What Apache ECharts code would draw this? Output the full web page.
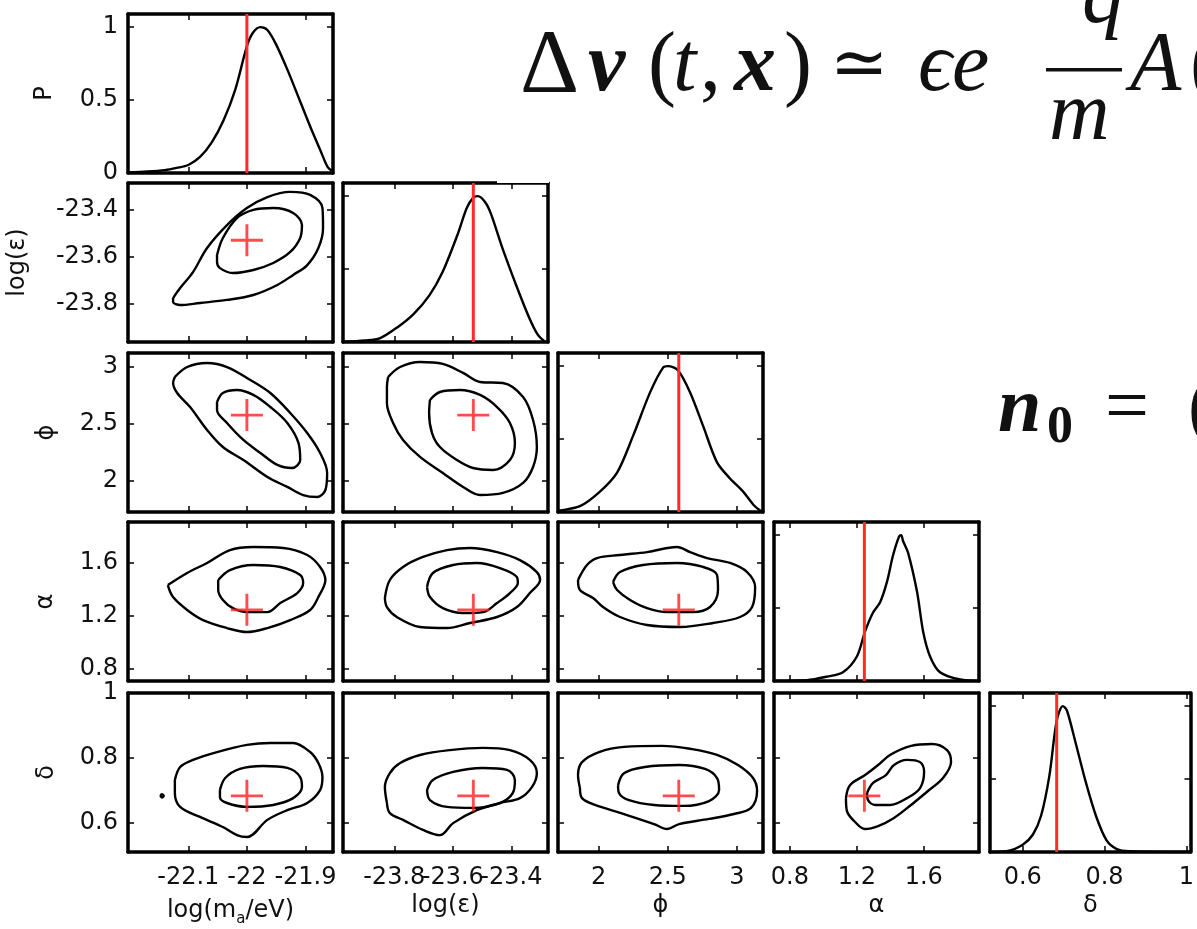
<!DOCTYPE html>
<html>
<head>
<meta charset="utf-8">
<script src="https://cdn.jsdelivr.net/npm/echarts@6/dist/echarts.min.js"></script>
<style>
  html, body { margin: 0; padding: 0; background: #fff; }
  #chart { width: 1197px; height: 929px; }
</style>
</head>
<body>
<div id="chart"></div>
<script>
// ---- parameters of the corner plot ----
const paramLabels = ['log(m{sub|a}/eV)', 'log(ε)', 'ϕ', 'α', 'δ'];
const rowLabels = ['P', 'log(ε)', 'ϕ', 'α', 'δ'];
const paramTicks = [
  [-22.1, -22, -21.9],
  [-23.8, -23.6, -23.4],
  [2, 2.5, 3],
  [0.8, 1.2, 1.6],
  [0.6, 0.8, 1]
];
const probTicks = [0, 0.5, 1];
const probRange = [0, 1.09];
const xRanges = [[-22.203, -21.853], [-23.975, -23.275], [1.705, 3.19], [0.705, 1.93], [0.52, 1.01]];
const yRanges = [[0, 1.09], [-23.965, -23.285], [1.73, 3.125], [0.71, 1.905], [0.51, 1.0]];
// injected (true) parameter values
const trueValues = [-22.0, -23.53, 2.58, 1.245, 0.683];

// ---- marginal posteriors (normalised to peak 1) ----
const margLogM = [[-22.203,0.004],[-22.17,0.01],[-22.14,0.02],[-22.12,0.035],[-22.1,0.055],[-22.08,0.11],[-22.06,0.21],[-22.04,0.36],[-22.02,0.57],[-22.0,0.87],[-21.99,0.96],[-21.977,1.0],[-21.965,0.98],[-21.95,0.88],[-21.93,0.7],[-21.91,0.5],[-21.89,0.3],[-21.875,0.16],[-21.862,0.04],[-21.853,0.01]];
const margLogEps = [[-23.975,0.0],[-23.9,0.01],[-23.85,0.025],[-23.79,0.1],[-23.735,0.19],[-23.68,0.32],[-23.635,0.48],[-23.585,0.73],[-23.552,0.92],[-23.53,0.99],[-23.515,1.0],[-23.49,0.96],[-23.47,0.88],[-23.43,0.64],[-23.38,0.37],[-23.34,0.17],[-23.31,0.05],[-23.285,0.0]];
const margPhi = [[1.705,0.005],[1.72,0.01],[1.864,0.04],[2.009,0.14],[2.133,0.27],[2.248,0.52],[2.372,0.82],[2.466,0.99],[2.502,1.0],[2.575,0.97],[2.662,0.82],[2.756,0.59],[2.857,0.34],[2.951,0.23],[3.046,0.14],[3.12,0.05],[3.169,0.01],[3.19,0.0]];
const margAlpha = [[0.705,0.0],[0.9,0.005],[1.022,0.03],[1.117,0.06],[1.201,0.17],[1.249,0.34],[1.297,0.47],[1.339,0.54],[1.38,0.68],[1.416,0.86],[1.452,0.99],[1.465,1.0],[1.476,0.96],[1.506,0.88],[1.56,0.61],[1.596,0.34],[1.637,0.17],[1.697,0.06],[1.817,0.01],[1.93,0.0]];
const margDelta = [[0.52,0.0],[0.56,0.005],[0.6,0.05],[0.625,0.12],[0.645,0.25],[0.665,0.52],[0.683,0.9],[0.698,1.0],[0.708,0.97],[0.73,0.74],[0.755,0.47],[0.78,0.24],[0.805,0.08],[0.83,0.02],[0.86,0.005],[1.01,0.0]];

// ---- 2D credible contours: [x, y] along each closed curve ----
const mEps95 = [[-22.126,-23.777],[-22.114,-23.734],[-22.092,-23.666],[-22.068,-23.563],[-22.034,-23.465],[-22.0,-23.392],[-21.965,-23.345],[-21.926,-23.323],[-21.892,-23.336],[-21.871,-23.392],[-21.87,-23.477],[-21.878,-23.563],[-21.897,-23.636],[-21.921,-23.678],[-21.948,-23.721],[-21.989,-23.764],[-22.034,-23.785],[-22.08,-23.798],[-22.114,-23.807],[-22.126,-23.794]];
const mEps68 = [[-22.051,-23.593],[-22.041,-23.52],[-22.017,-23.435],[-21.989,-23.4],[-21.955,-23.392],[-21.921,-23.413],[-21.906,-23.465],[-21.909,-23.52],[-21.926,-23.58],[-21.955,-23.627],[-21.989,-23.657],[-22.024,-23.67],[-22.046,-23.649],[-22.051,-23.623]];

const mPhi95 = [[-22.123,2.914],[-22.102,3.002],[-22.068,3.037],[-22.034,3.002],[-21.994,2.888],[-21.96,2.774],[-21.926,2.599],[-21.897,2.423],[-21.875,2.248],[-21.863,2.072],[-21.866,1.923],[-21.88,1.862],[-21.904,1.879],[-21.931,1.95],[-21.965,2.037],[-22.006,2.186],[-22.041,2.3],[-22.068,2.45],[-22.097,2.651],[-22.119,2.774],[-22.126,2.862]];
const mPhi68 = [[-22.051,2.695],[-22.041,2.774],[-22.017,2.8],[-21.989,2.757],[-21.96,2.651],[-21.931,2.511],[-21.912,2.336],[-21.909,2.186],[-21.923,2.116],[-21.948,2.143],[-21.977,2.248],[-22.006,2.362],[-22.034,2.511],[-22.051,2.625]];

const epsPhi95 = [[-23.821,2.914],[-23.78,3.002],[-23.712,3.046],[-23.634,3.029],[-23.565,2.95],[-23.507,2.871],[-23.429,2.862],[-23.36,2.739],[-23.326,2.537],[-23.313,2.3],[-23.326,2.125],[-23.36,1.985],[-23.429,1.897],[-23.507,1.879],[-23.565,1.95],[-23.634,2.072],[-23.712,2.213],[-23.77,2.362],[-23.804,2.511],[-23.825,2.686],[-23.825,2.827]];
const epsPhi68 = [[-23.678,2.713],[-23.644,2.783],[-23.576,2.8],[-23.507,2.757],[-23.449,2.651],[-23.405,2.511],[-23.388,2.336],[-23.405,2.186],[-23.463,2.099],[-23.531,2.116],[-23.586,2.186],[-23.644,2.3],[-23.671,2.423],[-23.681,2.599]];

const mAlpha95 = [[-22.135,1.431],[-22.102,1.522],[-22.068,1.597],[-22.029,1.694],[-21.989,1.717],[-21.938,1.71],[-21.897,1.657],[-21.875,1.567],[-21.866,1.469],[-21.878,1.341],[-21.892,1.244],[-21.926,1.168],[-21.965,1.108],[-22.0,1.078],[-22.034,1.108],[-22.075,1.168],[-22.102,1.244],[-22.126,1.341]];
const mAlpha68 = [[-22.049,1.469],[-22.029,1.544],[-21.989,1.582],[-21.943,1.567],[-21.909,1.507],[-21.904,1.446],[-21.914,1.371],[-21.943,1.296],[-21.965,1.228],[-22.0,1.228],[-22.024,1.258],[-22.041,1.319],[-22.049,1.394]];

const epsAlpha95 = [[-23.832,1.334],[-23.815,1.469],[-23.77,1.567],[-23.702,1.642],[-23.62,1.694],[-23.541,1.71],[-23.449,1.679],[-23.371,1.619],[-23.313,1.529],[-23.302,1.469],[-23.337,1.371],[-23.381,1.266],[-23.449,1.191],[-23.541,1.146],[-23.62,1.108],[-23.712,1.116],[-23.791,1.191],[-23.825,1.266]];
const epsAlpha68 = [[-23.688,1.416],[-23.668,1.522],[-23.599,1.582],[-23.518,1.597],[-23.439,1.559],[-23.381,1.491],[-23.378,1.446],[-23.405,1.371],[-23.449,1.296],[-23.497,1.228],[-23.565,1.221],[-23.634,1.258],[-23.678,1.341]];

const phiAlpha95 = [[1.85,1.469],[1.915,1.582],[1.988,1.634],[2.154,1.657],[2.35,1.679],[2.567,1.717],[2.662,1.679],[2.785,1.634],[2.951,1.597],[3.075,1.529],[3.133,1.416],[3.111,1.266],[3.024,1.191],[2.828,1.146],[2.589,1.116],[2.35,1.131],[2.154,1.191],[2.031,1.266],[1.959,1.334],[1.864,1.394]];
const phiAlpha68 = [[2.104,1.454],[2.154,1.529],[2.321,1.582],[2.567,1.597],[2.756,1.567],[2.857,1.507],[2.864,1.394],[2.806,1.266],[2.683,1.228],[2.495,1.228],[2.35,1.258],[2.227,1.319],[2.133,1.394]];

const mDelta95 = [[-22.123,0.732],[-22.114,0.772],[-22.092,0.794],[-22.051,0.818],[-22.0,0.84],[-21.96,0.846],[-21.921,0.846],[-21.892,0.818],[-21.878,0.784],[-21.871,0.741],[-21.875,0.701],[-21.897,0.661],[-21.931,0.639],[-21.965,0.609],[-22.0,0.556],[-22.017,0.562],[-22.041,0.587],[-22.08,0.618],[-22.114,0.649],[-22.123,0.692]];
const mDelta68 = [[-22.046,0.701],[-22.037,0.738],[-22.012,0.766],[-21.972,0.775],[-21.931,0.769],[-21.909,0.741],[-21.906,0.71],[-21.921,0.676],[-21.955,0.655],[-22.0,0.649],[-22.034,0.661],[-22.046,0.679]];
const mDeltaIsland = [[-22.148,0.683],[-22.145,0.688],[-22.142,0.683],[-22.145,0.678]];

const epsDelta95 = [[-23.825,0.661],[-23.832,0.71],[-23.815,0.753],[-23.78,0.784],[-23.712,0.809],[-23.61,0.824],[-23.497,0.831],[-23.405,0.824],[-23.337,0.794],[-23.313,0.753],[-23.33,0.71],[-23.371,0.676],[-23.439,0.661],[-23.518,0.639],[-23.599,0.599],[-23.644,0.562],[-23.702,0.578],[-23.77,0.609],[-23.815,0.63]];
const epsDelta68 = [[-23.688,0.701],[-23.668,0.732],[-23.599,0.757],[-23.497,0.769],[-23.415,0.763],[-23.388,0.732],[-23.395,0.692],[-23.439,0.661],[-23.531,0.646],[-23.62,0.649],[-23.678,0.67]];

const phiDelta95 = [[1.864,0.707],[1.85,0.747],[1.879,0.787],[2.002,0.818],[2.183,0.834],[2.459,0.837],[2.676,0.827],[2.857,0.809],[3.009,0.778],[3.118,0.738],[3.147,0.698],[3.104,0.646],[2.98,0.627],[2.799,0.612],[2.582,0.596],[2.495,0.581],[2.401,0.596],[2.183,0.627],[1.973,0.655],[1.879,0.676]];
const phiDelta68 = [[2.14,0.716],[2.183,0.753],[2.335,0.772],[2.582,0.778],[2.77,0.766],[2.857,0.738],[2.872,0.701],[2.799,0.667],[2.611,0.652],[2.401,0.655],[2.219,0.67],[2.147,0.692]];

const alphaDelta95 = [[1.135,0.676],[1.159,0.716],[1.249,0.747],[1.327,0.778],[1.398,0.809],[1.524,0.837],[1.649,0.843],[1.739,0.824],[1.763,0.787],[1.715,0.738],[1.625,0.698],[1.524,0.655],[1.422,0.615],[1.327,0.59],[1.249,0.581],[1.183,0.606],[1.141,0.636]];
const alphaDelta68 = [[1.261,0.692],[1.297,0.723],[1.374,0.747],[1.422,0.778],[1.5,0.794],[1.578,0.787],[1.602,0.757],[1.578,0.707],[1.5,0.676],[1.398,0.655],[1.309,0.655],[1.267,0.67]];

// lookup tables built from the arrays above
const marginals = [margLogM, margLogEps, margPhi, margAlpha, margDelta];
const contourSets = {
  '1-0': [mEps95, mEps68],
  '2-0': [mPhi95, mPhi68],
  '2-1': [epsPhi95, epsPhi68],
  '3-0': [mAlpha95, mAlpha68],
  '3-1': [epsAlpha95, epsAlpha68],
  '3-2': [phiAlpha95, phiAlpha68],
  '4-0': [mDelta95, mDelta68, mDeltaIsland],
  '4-1': [epsDelta95, epsDelta68],
  '4-2': [phiDelta95, phiDelta68],
  '4-3': [alphaDelta95, alphaDelta68]
};

// ---- layout ----
const colLeft = [128, 343, 558, 774, 990];
const rowTop = [14, 183, 353, 522, 693];
const panelW = 205, panelH = 159;
const yNameGap = [71, 98, 69, 70, 69];

const sans = '"DejaVu Sans", "Liberation Sans", sans-serif';
const serif = '"Liberation Serif", "DejaVu Serif", serif';
const ink = '#111';
const labelSize = 24;

function closed(pts) { return pts.concat([pts[0]]); }

function makeAxis(dim, gridIndex, position, range, ticks, showLabels, name, nameGap) {
  return {
    type: 'value',
    gridIndex: gridIndex,
    position: position,
    min: range[0],
    max: range[1],
    axisLine: { show: true, onZero: false, lineStyle: { color: '#000', width: 3.5 } },
    axisTick: { show: true, inside: true, length: 6, customValues: ticks, lineStyle: { color: '#000', width: 1.5 } },
    axisLabel: {
      show: showLabels,
      customValues: ticks,
      hideOverlap: false,
      margin: dim === 'x' ? 14 : 10,
      fontSize: labelSize,
      fontFamily: sans,
      color: ink
    },
    splitLine: { show: false },
    name: name || '',
    nameLocation: 'middle',
    nameGap: nameGap,
    nameTextStyle: {
      fontSize: labelSize,
      fontFamily: sans,
      color: ink,
      rich: { sub: { fontSize: 15, fontFamily: sans, color: ink, padding: [18, 0, 0, 0] } }
    }
  };
}

// a bare bottom axis carrying a single tick label (labels of the bottom row
// sit close together, so each one gets its own axis)
function labelAxis(gridIndex, range, value) {
  return {
    type: 'value',
    gridIndex: gridIndex,
    position: 'bottom',
    min: range[0],
    max: range[1],
    axisLine: { show: false, onZero: false },
    axisTick: { show: false },
    splitLine: { show: false },
    axisLabel: {
      show: true,
      customValues: [value],
      margin: 14,
      fontSize: labelSize,
      fontFamily: sans,
      color: ink
    }
  };
}

const grids = [], xAxes = [], yAxes = [], series = [];
let k = 0;
for (let r = 0; r < 5; r++) {
  for (let c = 0; c <= r; c++) {
    const diag = r === c;
    grids.push({ left: colLeft[c], top: rowTop[r], width: panelW, height: panelH });
    const yr = diag ? probRange : yRanges[r];
    const yt = diag ? probTicks : paramTicks[r];
    const xi = xAxes.length, yi = yAxes.length;
    xAxes.push(makeAxis('x', k, 'bottom', xRanges[c], paramTicks[c], false, r === 4 ? paramLabels[c] : '', 42));
    xAxes.push(makeAxis('x', k, 'top', xRanges[c], paramTicks[c], false, '', 0));
    if (r === 4) {
      paramTicks[c].forEach(function (t) { xAxes.push(labelAxis(k, xRanges[c], t)); });
    }
    yAxes.push(makeAxis('y', k, 'left', yr, yt, c === 0, c === 0 ? rowLabels[r] : '', yNameGap[r]));
    yAxes.push(makeAxis('y', k, 'right', yr, yt, false, '', 0));
    if (diag) {
      series.push({
        type: 'line', xAxisIndex: xi, yAxisIndex: yi, data: marginals[c],
        smooth: 0.3, showSymbol: false, silent: true,
        lineStyle: { color: '#000', width: 2.4 }
      });
      series.push({
        type: 'line', xAxisIndex: xi, yAxisIndex: yi,
        data: [[trueValues[c], probRange[0]], [trueValues[c], probRange[1]]],
        showSymbol: false, silent: true,
        lineStyle: { color: '#ff2b2b', width: 3 }
      });
    } else {
      contourSets[r + '-' + c].forEach(function (pts) {
        series.push({
          type: 'line', xAxisIndex: xi, yAxisIndex: yi, data: closed(pts),
          smooth: 0.35, showSymbol: false, silent: true,
          lineStyle: { color: '#000', width: 2.4 }
        });
      });
      series.push({
        type: 'scatter', xAxisIndex: xi, yAxisIndex: yi,
        data: [[trueValues[c], trueValues[r]]],
        symbol: 'path://M0,0.455H0.455V0H0.545V0.455H1V0.545H0.545V1H0.455V0.545H0Z',
        symbolSize: 32, silent: true, z: 5,
        itemStyle: { color: '#ff2020' }
      });
    }
    k++;
  }
}

// ---- equations set beside the plot ----
const eqSize = 84;
const graphic = [
  {
    type: 'text', x: 520, y: 68, z: 10,
    style: {
      text: '{a|Δ}{b|v}{c|(}{d|t}{e|,}{f|x}{g|)}{h|≃}{i|ϵ}{j|e}',
      verticalAlign: 'middle',
      fill: ink,
      rich: {
        a: { fontFamily: serif, fontSize: 92, width: 68, color: ink },
        b: { fontFamily: serif, fontSize: eqSize, fontStyle: 'italic', fontWeight: 'bold', width: 60, color: ink },
        c: { fontFamily: serif, fontSize: eqSize, width: 25, color: ink },
        d: { fontFamily: serif, fontSize: eqSize, fontStyle: 'italic', width: 27, color: ink },
        e: { fontFamily: serif, fontSize: eqSize, width: 34, color: ink },
        f: { fontFamily: serif, fontSize: eqSize, fontStyle: 'italic', fontWeight: 'bold', width: 50, color: ink },
        g: { fontFamily: serif, fontSize: eqSize, width: 46, color: ink },
        h: { fontFamily: '"DejaVu Serif", serif', fontSize: 70, width: 88, color: ink },
        i: { fontFamily: serif, fontSize: eqSize, fontStyle: 'italic', width: 34, color: ink },
        j: { fontFamily: serif, fontSize: eqSize, fontStyle: 'italic', color: ink }
      }
    }
  },
  { type: 'text', x: 1082, y: 0, z: 10, style: { text: 'q', font: 'italic ' + eqSize + 'px ' + serif, fill: ink, verticalAlign: 'middle' } },
  { type: 'rect', z: 10, shape: { x: 1046, y: 68, width: 76, height: 3.5 }, style: { fill: ink } },
  { type: 'text', x: 1049, y: 117, z: 10, style: { text: 'm', font: 'italic ' + eqSize + 'px ' + serif, fill: ink, verticalAlign: 'middle' } },
  { type: 'text', x: 1130, y: 68, z: 10, style: { text: 'A', font: 'italic ' + eqSize + 'px ' + serif, fill: ink, verticalAlign: 'middle' } },
  { type: 'text', x: 1190, y: 68, z: 10, style: { text: '(', font: eqSize + 'px ' + serif, fill: ink, verticalAlign: 'middle' } },
  { type: 'text', x: 998, y: 411, z: 10, style: { text: 'n', font: 'italic bold 78px ' + serif, fill: ink, verticalAlign: 'middle' } },
  { type: 'text', x: 1047, y: 429, z: 10, style: { text: '0', font: 'bold 52px ' + serif, fill: ink, verticalAlign: 'middle' } },
  { type: 'text', x: 1105, y: 411, z: 10, style: { text: '=', font: '78px ' + serif, fill: ink, verticalAlign: 'middle' } },
  { type: 'text', x: 1188, y: 411, z: 10, style: { text: '(', font: '78px ' + serif, fill: ink, verticalAlign: 'middle' } },
  // small white cut over the top frame of the second marginal panel
  { type: 'rect', z: 100, shape: { x: 497, y: 178, width: 52, height: 5 }, style: { fill: '#fff' } }
];

const chart = echarts.init(document.getElementById('chart'), null, { renderer: 'canvas' });
chart.setOption({
  animation: false,
  backgroundColor: '#fff',
  grid: grids,
  xAxis: xAxes,
  yAxis: yAxes,
  series: series,
  graphic: graphic
});
</script>
</body>
</html>
